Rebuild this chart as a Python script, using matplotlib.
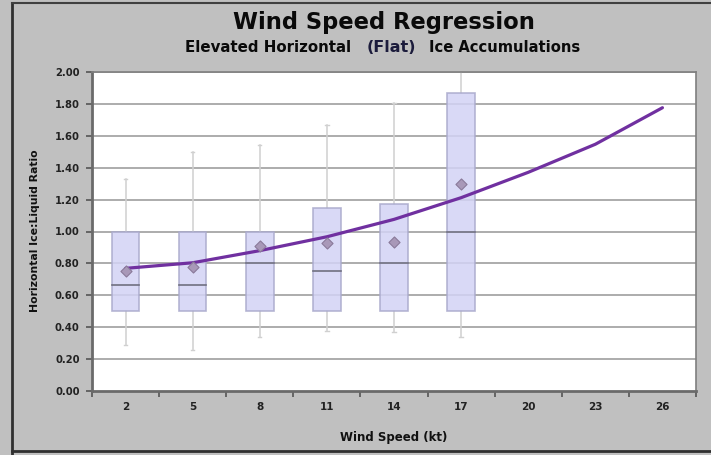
import matplotlib
matplotlib.use("Agg")
import matplotlib.pyplot as plt
from matplotlib.patches import Rectangle
from matplotlib.lines import Line2D
import numpy as np

# ---- data ----
categories = ["2", "5", "8", "11", "14", "17", "20", "23", "26"]
box_q1 = [0.50, 0.50, 0.50, 0.50, 0.50, 0.50]
box_median = [0.667, 0.667, 0.80, 0.75, 0.80, 1.00]
box_q3 = [1.00, 1.00, 1.00, 1.15, 1.17, 1.87]
whisker_low = [0.286, 0.257, 0.337, 0.378, 0.370, 0.337]
whisker_high = [1.327, 1.50, 1.542, 1.668, 1.804, 2.20]
box_mean = [0.754, 0.779, 0.909, 0.926, 0.936, 1.296]
trend = [0.769, 0.804, 0.880, 0.967, 1.076, 1.212, 1.371, 1.547, 1.776]
y_ticks = [0.0, 0.2, 0.4, 0.6, 0.8, 1.0, 1.2, 1.4, 1.6, 1.8, 2.0]

W, H = 711, 455
fig = plt.figure(figsize=(W / 100, H / 100), dpi=100)
fig.patch.set_facecolor("#c0c0c0")

# outer frame lines
fig.add_artist(Line2D([12 / W, 12 / W], [0, 1 - 3 / H], color="#303030", lw=2.0))
fig.add_artist(Line2D([12 / W, 1], [1 - 3 / H, 1 - 3 / H], color="#404040", lw=1.5))
fig.add_artist(Line2D([12 / W, 1], [1 - 451 / H, 1 - 451 / H], color="#303030", lw=2.0))

left, right, top, bottom = 92, 696, 72, 391
ax = fig.add_axes([left / W, 1 - bottom / H, (right - left) / W, (bottom - top) / H])
ax.set_facecolor("white")

n = len(categories)
xpos = np.arange(n)
ax.set_xlim(-0.5, n - 0.5)
ax.set_ylim(0, 2.0)

# grid
for yv in y_ticks[1:]:
    ax.axhline(yv, color="#a6a6a6", lw=1.3, zorder=1)

bw = 0.41
box_face = "#d3d3f5"
box_edge = "#a9a9cc"
for i in range(len(box_q1)):
    x = xpos[i]
    ax.plot([x, x], [whisker_low[i], box_q1[i]], color="#d0d0d0", lw=1.1, zorder=2)
    ax.plot([x, x], [box_q3[i], whisker_high[i]], color="#d0d0d0", lw=1.1, zorder=2)
    ax.plot([x - 0.025, x + 0.025], [whisker_low[i]] * 2, color="#d0d0d0", lw=1.0, zorder=2)
    ax.plot([x - 0.025, x + 0.025], [whisker_high[i]] * 2, color="#d0d0d0", lw=1.0, zorder=2)
    ax.add_patch(Rectangle((x - bw / 2, box_q1[i]), bw, box_q3[i] - box_q1[i],
                           facecolor=box_face, edgecolor=box_edge, lw=1.2,
                           alpha=0.85, zorder=3))
    ax.plot([x - bw / 2, x + bw / 2], [box_median[i]] * 2, color="#707080", lw=1.2, zorder=4)

ax.plot(xpos, trend, color="#7030a0", lw=2.3, zorder=5, solid_capstyle="round")
ax.scatter(xpos[:len(box_mean)], box_mean, marker="D", s=32, facecolor="#a898b8",
           edgecolor="#8a7a9a", lw=0.8, zorder=6)

# axes styling
for s in ["top", "right"]:
    ax.spines[s].set_color("#7f7f7f")
    ax.spines[s].set_linewidth(1.2)
for s in ["left", "bottom"]:
    ax.spines[s].set_color("#6a6a6a")
    ax.spines[s].set_linewidth(2.0)

ax.set_yticks(y_ticks)
ax.set_yticklabels([f"{v:.2f}" for v in y_ticks], fontsize=7.2, fontweight="bold",
                   family="Liberation Sans Narrow", color="#222222")
ax.set_xticks(xpos)
ax.set_xticklabels(categories, fontsize=7.5, fontweight="bold",
                   family="Liberation Sans Narrow", color="#222222")
ax.tick_params(axis="x", length=0, pad=8)
ax.set_xticks(np.arange(-0.5, n, 1.0), minor=True)
ax.tick_params(axis="x", which="minor", length=4, width=1.2, color="#555555", direction="out")
ax.tick_params(axis="y", length=4, width=1.2, color="#555555", direction="out", pad=5)

fig.text(35 / W, 1 - 231 / H, "Horizontal Ice:Liquid Ratio", rotation=90, ha="center",
         va="center", fontsize=7.8, fontweight="bold", family="DejaVu Sans", color="#111111")
fig.text(394 / W, 1 - 438 / H, "Wind Speed (kt)", ha="center", va="center",
         fontsize=8.5, fontweight="bold", family="Liberation Sans Narrow", color="#111111")

# titles
fig.text(384 / W, 1 - 22 / H, "Wind Speed Regression", ha="center", va="center",
         fontsize=16.3, fontweight="bold", family="DejaVu Sans", color="#0a0a0a")
fig.text(351 / W, 1 - 47 / H, "Elevated Horizontal", ha="right", va="center",
         fontsize=10.8, fontweight="bold", family="DejaVu Sans", color="#0a0a0a")
fig.text(391 / W, 1 - 48 / H, "(Flat)", ha="center", va="center",
         fontsize=11.5, fontweight="bold", family="DejaVu Sans", color="#1c1c3c")
fig.text(429 / W, 1 - 47 / H, "Ice Accumulations", ha="left", va="center",
         fontsize=10.6, fontweight="bold", family="DejaVu Sans", color="#0a0a0a")

fig.savefig("out.png", dpi=100, facecolor=fig.get_facecolor())
